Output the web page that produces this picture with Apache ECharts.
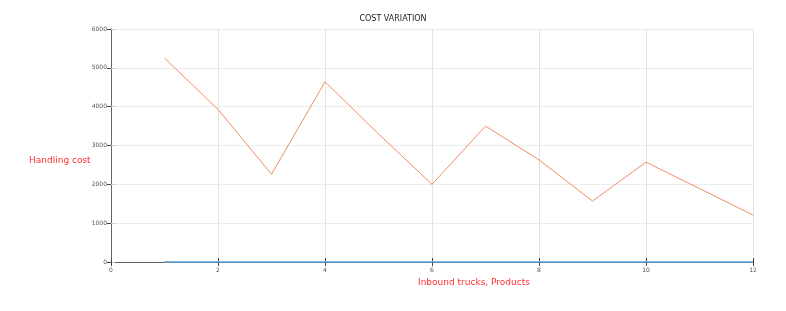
<!DOCTYPE html>
<html><head><meta charset="utf-8">
<script src="https://cdn.jsdelivr.net/npm/echarts@6/dist/echarts.min.js"></script>
<style>html,body{margin:0;padding:0;background:#fff}#c{width:786px;height:311px}</style>
</head><body><div id="c"></div>
<script>
var xValues = [1,2,3,4,5,6,7,8,9,10,11,12];
var handlingCost = [5250,3930,2260,4640,3300,2000,3500,2630,1570,2570,1890,1210];
var baseline = [0,0,0,0,0,0,0,0,0,0,0,0];
var chartTitle = 'COST VARIATION';
var yName = 'Handling cost';
var xName = 'Inbound trucks, Products';

var chart = echarts.init(document.getElementById('c'));
function pairs(v){ return xValues.map(function(x,i){return [x,v[i]];}); }
var lbl = {fontSize:6, color:'#555', fontFamily:'DejaVu Sans', formatter:function(v){return String(v);}};
chart.setOption({
  animation:false,
  title:{text:chartTitle,left:388,top:10,textAlign:'center',textStyle:{fontSize:8,fontWeight:'normal',color:'#222',fontFamily:'DejaVu Sans'}},
  grid:{left:111,right:33,top:29,bottom:49},
  xAxis:[{type:'value',min:0,max:12,interval:2,position:'bottom',
    axisLine:{show:true,lineStyle:{color:'#666',width:1}},
    axisTick:{show:true,inside:true,length:4,lineStyle:{color:'#444'}},
    axisLabel:Object.assign({margin:5},lbl),
    splitLine:{show:true,lineStyle:{color:'#e3e3e3',width:1}}},
   {type:'value',min:0,max:12,interval:2,position:'top',
    axisLine:{show:true,lineStyle:{color:'#666',width:1}},
    axisTick:{show:true,inside:true,length:4,lineStyle:{color:'#444'}},
    axisLabel:{show:false},splitLine:{show:false}}],
  yAxis:[{type:'value',min:0,max:6000,interval:1000,position:'left',
    axisLine:{show:true,lineStyle:{color:'#666',width:1}},
    axisTick:{show:true,inside:true,length:4,lineStyle:{color:'#ccc'}},
    axisLabel:Object.assign({margin:4},lbl),
    splitLine:{show:true,lineStyle:{color:'#ececec',width:1}}},
   {type:'value',min:0,max:6000,interval:1000,position:'right',
    axisLine:{show:true,lineStyle:{color:'#666',width:1}},
    axisTick:{show:true,inside:true,length:4,lineStyle:{color:'#444'}},
    axisLabel:{show:false},splitLine:{show:false}}],
  graphic:[
    {type:'text',left:29,top:156,style:{text:yName,fill:'#ff3030',fontSize:9,fontFamily:'DejaVu Sans'}},
    {type:'text',left:418,top:278,style:{text:xName,fill:'#ff3030',fontSize:9,fontFamily:'DejaVu Sans'}}
  ],
  series:[
    {type:'line',data:pairs(baseline),showSymbol:false,clip:false,lineStyle:{color:'#5b9bd5',width:1.5},z:10},
    {type:'line',data:pairs(handlingCost),showSymbol:false,lineStyle:{color:'#f28b61',width:1},z:11}
  ]
});
</script></body></html>
